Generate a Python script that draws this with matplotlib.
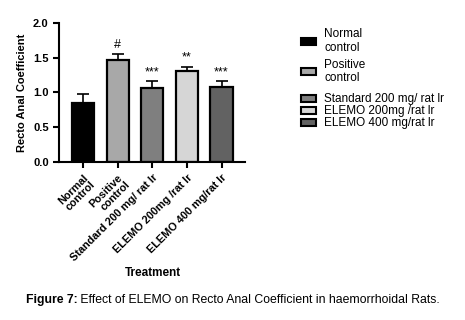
import matplotlib
matplotlib.use("Agg")
import matplotlib.pyplot as plt
from matplotlib.patches import Patch

plt.rcParams['font.family'] = ['Liberation Sans', 'DejaVu Sans']

groups = ["Normal\ncontrol", "Positive\ncontrol", "Standard 200 mg/ rat lr",
          "ELEMO 200mg /rat lr", "ELEMO 400 mg/rat lr"]
means = [0.85, 1.465, 1.065, 1.30, 1.08]
sem = [0.12, 0.09, 0.095, 0.07, 0.08]
marks = ["", "#", "***", "**", "***"]
colors = ["#000000", "#a8a8a8", "#7f7f7f", "#d6d6d6", "#626262"]

fig = plt.figure(figsize=(4.65, 3.2), dpi=100)
ax = fig.add_axes([0.127, 0.494, 0.40, 0.435])

x = list(range(len(groups)))
ax.bar(x, means, width=0.64, color=colors, edgecolor="black", linewidth=1.6, zorder=2)
ax.errorbar(x, means, yerr=[[0] * len(sem), sem], fmt="none", ecolor="black",
            elinewidth=1.2, capsize=4, capthick=1.2, zorder=1)
for xi, m, s, t in zip(x, means, sem, marks):
    ax.text(xi, m + s + 0.04, t, ha="center", va="bottom", fontsize=9)

ax.set_xlim(-0.69, 4.68)
ax.set_ylim(0, 2.0)
ax.set_yticks([0.0, 0.5, 1.0, 1.5, 2.0])
ax.set_yticklabels(["0.0", "0.5", "1.0", "1.5", "2.0"], fontsize=8, fontweight="bold")
ax.set_xticks(x)
ax.set_xticklabels(groups, rotation=45, ha="right", rotation_mode="anchor",
                   fontsize=7.8, fontweight="bold", linespacing=1.0)
ax.spines["top"].set_visible(False)
ax.spines["right"].set_visible(False)
ax.spines["left"].set_linewidth(1.5)
ax.spines["bottom"].set_linewidth(1.5)
ax.tick_params(width=1.5, length=4)
ax.set_ylabel("Recto Anal Coefficient", fontsize=8, fontweight="bold")
fig.text(0.328, 0.146, "Treatment", ha="center", va="center", fontsize=8.5, fontweight="bold")

# legend in two blocks: two-line entries, then single-line entries
handles = [Patch(facecolor=c, edgecolor="black", linewidth=1.5) for c in colors]
common = dict(frameon=False, fontsize=8.5, handlelength=1.3, handleheight=0.55,
              handletextpad=0.7, borderpad=0, borderaxespad=0, loc="upper left")
fig.legend(handles[:2], groups[:2], bbox_to_anchor=(0.647, 0.912),
           labelspacing=0.4, **common)
fig.legend(handles[2:], groups[2:], bbox_to_anchor=(0.647, 0.708),
           labelspacing=0.0, **common)

t1 = fig.text(0.055, 0.062, "Figure 7:", fontsize=8.8, fontweight="bold", va="center")
rest = fig.text(0, 0, " Effect of ELEMO on Recto Anal Coefficient in haemorrhoidal Rats.",
                fontsize=8.8, va="center")
fig.canvas.draw()
bb = t1.get_window_extent()
rest.set_position((bb.x1 / fig.bbox.width, 0.062))

fig.savefig("out.png", dpi=100)
